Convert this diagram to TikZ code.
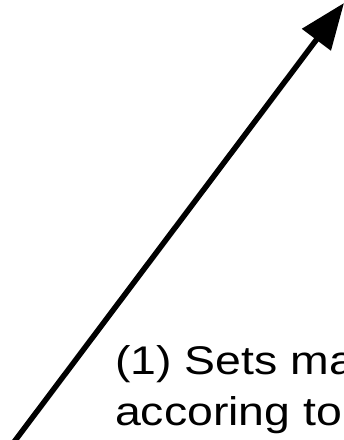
\documentclass[tikz,border=0pt]{standalone}
\usepackage{fontspec}
\setmainfont[FakeStretch=1.16]{Liberation Sans}
\usetikzlibrary{arrows.meta}

\begin{document}
\begin{tikzpicture}[x=1pt,y=-1pt,
  arr/.style={line width=5.5pt,-{Triangle[length=46pt,width=35pt]}},
  lbl/.style={align=left,inner sep=0pt,font=\fontsize{40}{51}\selectfont}]
  \useasboundingbox (0,0) rectangle (344,440);
  \coordinate (tail) at (11,446);
  \coordinate (tip) at (344,3);
  \draw[arr] (tail) -- (tip);
  \node[lbl,anchor=base west] (note) at (115,425) {(1) Sets ma\\accoring to};
\end{tikzpicture}
\end{document}
